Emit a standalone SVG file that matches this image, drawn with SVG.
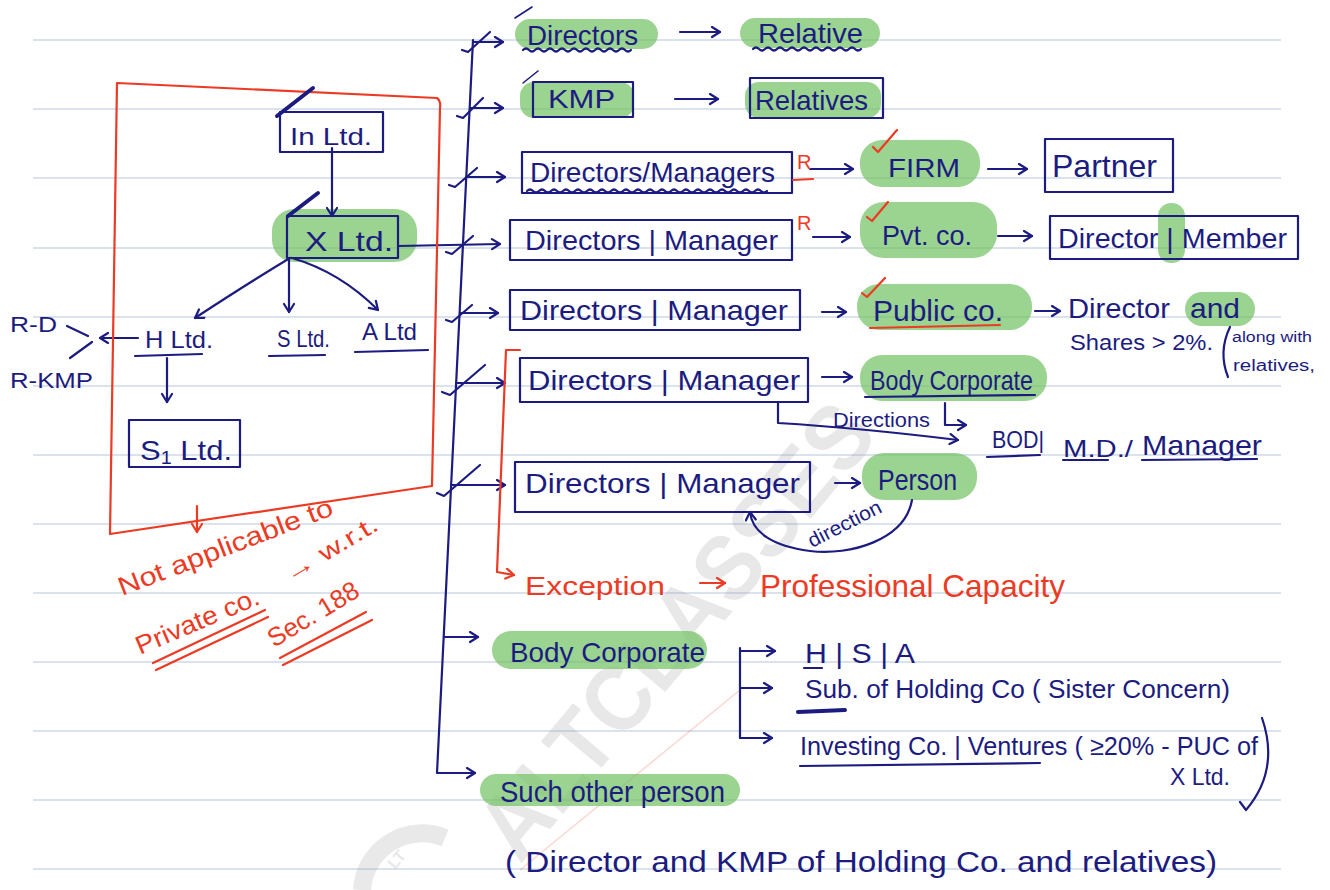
<svg xmlns="http://www.w3.org/2000/svg" width="1330" height="890" viewBox="0 0 1330 890">
<style>
.ink{fill:none;stroke:#1c1c80;stroke-width:2.2;stroke-linecap:round;stroke-linejoin:round}
.thin{fill:none;stroke:#1c1c80;stroke-width:1.6;stroke-linecap:round;stroke-linejoin:round}
.thick{fill:none;stroke:#1c1c80;stroke-width:4;stroke-linecap:round}
.red{fill:none;stroke:#ec3b25;stroke-width:2.2;stroke-linecap:round;stroke-linejoin:round}
.t{font-family:"Liberation Sans",Arial,sans-serif;fill:#1c1c80}
.tr{font-family:"Liberation Sans",Arial,sans-serif;fill:#ec3b25}
.hl{fill:#74c265;opacity:0.72}
.rule{stroke:#b6c5dc;stroke-width:1.2}
.wm{font-family:"Liberation Sans",Arial,sans-serif;font-weight:bold;fill:#9a9a9a;opacity:0.22}
</style>
<defs>
<marker id="ah" markerUnits="userSpaceOnUse" markerWidth="14" markerHeight="14" refX="10" refY="6" orient="auto"><path d="M2,1 L10,6 L2,11" fill="none" stroke="#1c1c80" stroke-width="2.2" stroke-linecap="round" stroke-linejoin="round"/></marker>
<marker id="ahr" markerUnits="userSpaceOnUse" markerWidth="14" markerHeight="14" refX="10" refY="6" orient="auto"><path d="M2,1 L10,6 L2,11" fill="none" stroke="#ec3b25" stroke-width="2.2" stroke-linecap="round" stroke-linejoin="round"/></marker>
</defs>
<rect width="1330" height="890" fill="#ffffff"/>
<g id="ruled">
<line class="rule" x1="33" y1="40" x2="1281" y2="40"/>
<line class="rule" x1="33" y1="109" x2="1281" y2="109"/>
<line class="rule" x1="33" y1="178" x2="1281" y2="178"/>
<line class="rule" x1="33" y1="248" x2="1281" y2="248"/>
<line class="rule" x1="33" y1="317" x2="1281" y2="317"/>
<line class="rule" x1="33" y1="386" x2="1281" y2="386"/>
<line class="rule" x1="33" y1="455" x2="1281" y2="455"/>
<line class="rule" x1="33" y1="524" x2="1281" y2="524"/>
<line class="rule" x1="33" y1="593" x2="1281" y2="593"/>
<line class="rule" x1="33" y1="662" x2="1281" y2="662"/>
<line class="rule" x1="33" y1="731" x2="1281" y2="731"/>
<line class="rule" x1="33" y1="800" x2="1281" y2="800"/>
<line class="rule" x1="33" y1="869" x2="1281" y2="869"/>
</g>
<g id="watermark">
<path d="M445,838 A60,60 0 0 0 362,890" fill="none" stroke="#9a9a9a" stroke-width="18" opacity="0.22"/>
<text class="wm" x="395" y="870" font-size="16" transform="rotate(-50 395 870)">LT</text>
<line x1="520" y1="870" x2="740" y2="690" stroke="#ec3b25" stroke-width="1.5" opacity="0.2"/>
<text class="wm" x="520" y="865" font-size="92" textLength="560" lengthAdjust="spacingAndGlyphs" transform="rotate(-50 520 865)">ALTCLASSES</text>
</g>
<g id="highlights">
<rect class="hl" x="515" y="19" width="143" height="30" rx="15"/>
<rect class="hl" x="740" y="18" width="140" height="30" rx="15"/>
<rect class="hl" x="520" y="82" width="114" height="36" rx="14"/>
<rect class="hl" x="745" y="82" width="136" height="36" rx="14"/>
<rect class="hl" x="860" y="140" width="120" height="47" rx="22"/>
<rect class="hl" x="860" y="202" width="137" height="56" rx="24"/>
<rect class="hl" x="1158" y="203" width="27" height="60" rx="13"/>
<rect class="hl" x="857" y="284" width="175" height="46" rx="22"/>
<rect class="hl" x="1185" y="292" width="70" height="34" rx="17"/>
<rect class="hl" x="860" y="355" width="187" height="46" rx="22"/>
<rect class="hl" x="862" y="453" width="115" height="47" rx="22"/>
<rect class="hl" x="492" y="631" width="215" height="38" rx="19"/>
<rect class="hl" x="480" y="774" width="260" height="32" rx="16"/>
<rect class="hl" x="272" y="209" width="145" height="53" rx="22"/>
</g>
<g id="connectors">
<path class="ink" d="M473,40 L437,773 L475,773" marker-end="url(#ah)"/>
<path class="ink" d="M473,42 L503,42" marker-end="url(#ah)"/>
<path class="ink" d="M462,50 L468,52 L490,32"/>
<path class="ink" d="M470,108 L503,108" marker-end="url(#ah)"/>
<path class="ink" d="M457,116 L463,118 L483,98"/>
<path class="ink" d="M466,177 L505,177" marker-end="url(#ah)"/>
<path class="ink" d="M449,185 L455,187 L477,168"/>
<path class="ink" d="M398,246 L500,244" marker-end="url(#ah)"/>
<path class="ink" d="M446,252 L452,254 L473,236"/>
<path class="ink" d="M460,313 L498,313" marker-end="url(#ah)"/>
<path class="ink" d="M446,320 L452,322 L472,305"/>
<path class="ink" d="M456,383 L505,383" marker-end="url(#ah)"/>
<path class="ink" d="M442,392 L450,395 L485,365"/>
<path class="ink" d="M451,485 L505,485" marker-end="url(#ah)"/>
<path class="ink" d="M437,493 L444,496 L480,465"/>
<path class="ink" d="M444,637 L478,637" marker-end="url(#ah)"/>
<path class="ink" d="M680,32 L720,32" marker-end="url(#ah)"/>
<path class="ink" d="M675,99 L718,99" marker-end="url(#ah)"/>
<path class="ink" d="M810,169 L853,169" marker-end="url(#ah)"/>
<path class="ink" d="M988,169 L1027,169" marker-end="url(#ah)"/>
<path class="ink" d="M813,237 L850,237" marker-end="url(#ah)"/>
<path class="ink" d="M998,236 L1032,236" marker-end="url(#ah)"/>
<path class="ink" d="M822,312 L846,312" marker-end="url(#ah)"/>
<path class="ink" d="M1035,311 L1060,311" marker-end="url(#ah)"/>
<path class="ink" d="M822,377 L852,377" marker-end="url(#ah)"/>
<path class="ink" d="M778,403 L778,423 Q860,428 958,440" marker-end="url(#ah)"/>
<path class="ink" d="M945,403 L945,425 L966,425" marker-end="url(#ah)"/>
<path class="ink" d="M835,483 L860,483" marker-end="url(#ah)"/>
<path class="ink" d="M912,500 C905,540 850,556 810,551 C772,546 752,532 750,512" marker-end="url(#ah)"/>
<path class="ink" d="M740,648 L740,738"/>
<path class="ink" d="M740,651 L775,651" marker-end="url(#ah)"/>
<path class="ink" d="M740,688 L772,688" marker-end="url(#ah)"/>
<path class="ink" d="M740,738 L772,738" marker-end="url(#ah)"/>
<path class="ink" d="M332,148 L332,216" marker-end="url(#ah)"/>
<path class="ink" d="M290,258 Q250,282 195,318" marker-end="url(#ah)"/>
<path class="ink" d="M289,258 L289,312" marker-end="url(#ah)"/>
<path class="ink" d="M292,258 Q340,272 378,310" marker-end="url(#ah)"/>
<path class="ink" d="M138,338 L100,338" marker-end="url(#ah)"/>
<path class="ink" d="M67,326 L88,336"/>
<path class="ink" d="M70,358 L92,342"/>
<path class="ink" d="M167,358 L167,402" marker-end="url(#ah)"/>
<path class="red" d="M520,350 L506,350 L497,572 L514,575" marker-end="url(#ahr)"/>
<path class="red" d="M700,583 L725,583" marker-end="url(#ahr)"/>
<path class="red" d="M197,506 L197,532" marker-end="url(#ahr)"/>
</g>
<g id="left-box">
<path class="red" stroke-width="2.5" d="M117,83 L437,98 Q441,101 440,108 L432,486 L110,534 Z"/>
</g>
<g id="in-ltd">
<rect class="ink" x="280" y="112" width="103" height="40"/>
<path class="thick" d="M277,116 L313,88"/>
<text class="t" x="290" y="145" font-size="24" textLength="82" lengthAdjust="spacingAndGlyphs">In Ltd.</text>
</g>
<g id="x-ltd">
<rect class="ink" x="287" y="216" width="111" height="42"/>
<path class="thick" d="M288,216 L318,193"/>
<text class="t" x="305" y="251" font-size="28" textLength="88" lengthAdjust="spacingAndGlyphs">X Ltd.</text>
</g>
<g id="h-ltd">
<text class="t" x="145" y="348" font-size="24" textLength="68" lengthAdjust="spacingAndGlyphs">H Ltd.</text>
<path class="ink" d="M135,356 L202,354"/>
</g>
<g id="s-ltd">
<text class="t" x="277" y="347" font-size="24" textLength="53" lengthAdjust="spacingAndGlyphs">S Ltd.</text>
<path class="ink" d="M269,356 L325,355"/>
</g>
<g id="a-ltd">
<text class="t" x="362" y="340" font-size="24" textLength="55" lengthAdjust="spacingAndGlyphs">A Ltd</text>
<path class="ink" d="M355,352 L428,350"/>
</g>
<g id="r-labels">
<text class="t" x="10" y="332" font-size="22" textLength="47" lengthAdjust="spacingAndGlyphs">R-D</text>
<text class="t" x="10" y="388" font-size="22" textLength="83" lengthAdjust="spacingAndGlyphs">R-KMP</text>
</g>
<g id="s1-ltd">
<rect class="ink" x="129" y="420" width="111" height="47"/>
<text class="t" x="140" y="460" font-size="28" textLength="92" lengthAdjust="spacingAndGlyphs">S<tspan font-size="18" dy="4">1</tspan><tspan dy="-4"> Ltd.</tspan></text>
</g>
<g id="not-applicable">
<text class="tr" x="122" y="596" font-size="26" textLength="228" lengthAdjust="spacingAndGlyphs" transform="rotate(-21 122 596)">Not applicable to</text>
<text class="tr" x="140" y="655" font-size="26" textLength="132" lengthAdjust="spacingAndGlyphs" transform="rotate(-23 140 655)">Private co.</text>
<text class="tr" x="290" y="583" font-size="24" textLength="105" lengthAdjust="spacingAndGlyphs" transform="rotate(-31 290 583)">→ w.r.t.</text>
<text class="tr" x="274" y="648" font-size="26" textLength="102" lengthAdjust="spacingAndGlyphs" transform="rotate(-31 274 648)">Sec. 188</text>
<path class="red" d="M153,663 L265,610 M156,670 L268,617"/>
<path class="red" d="M280,658 L366,612 M283,665 L372,620"/>
</g>
<g id="directors">
<path class="thin" d="M515,18 L532,7"/>
<text class="t" x="527" y="45" font-size="28" textLength="111" lengthAdjust="spacingAndGlyphs">Directors</text>
<path class="ink" stroke-width="1.8" d="M523,50 q3,-3 6,0 t6,0 t6,0 t6,0 t6,0 t6,0 t6,0 t6,0 t6,0 t6,0 t6,0 t6,0 t6,0 t6,0 t6,0 t6,0 t6,0 t6,0"/>
</g>
<g id="relative">
<text class="t" x="758" y="43" font-size="28" textLength="105" lengthAdjust="spacingAndGlyphs">Relative</text>
<path class="ink" stroke-width="1.8" d="M753,49 q3,-3 6,0 t6,0 t6,0 t6,0 t6,0 t6,0 t6,0 t6,0 t6,0 t6,0 t6,0 t6,0 t6,0 t6,0 t6,0 t6,0 t6,0 t6,0"/>
</g>
<g id="kmp">
<rect class="ink" x="533" y="82" width="100" height="35"/>
<path class="thin" d="M523,83 L538,71"/>
<text class="t" x="548" y="108" font-size="26" textLength="67" lengthAdjust="spacingAndGlyphs">KMP</text>
</g>
<g id="relatives">
<rect class="ink" x="750" y="78" width="133" height="40"/>
<text class="t" x="755" y="110" font-size="28" textLength="113" lengthAdjust="spacingAndGlyphs">Relatives</text>
</g>
<g id="dm-firm">
<rect class="ink" x="522" y="152" width="270" height="41"/>
<text class="t" x="530" y="182" font-size="28" textLength="245" lengthAdjust="spacingAndGlyphs">Directors/Managers</text>
<path class="ink" stroke-width="1.8" d="M527,191 q3,-3 6,0 t6,0 t6,0 t6,0 t6,0 t6,0 t6,0 t6,0 t6,0 t6,0 t6,0 t6,0 t6,0 t6,0 t6,0 t6,0 t6,0 t6,0 t6,0 t6,0 t6,0 t6,0 t6,0 t6,0 t6,0 t6,0 t6,0 t6,0 t6,0 t6,0 t6,0 t6,0 t6,0 t6,0 t6,0 t6,0 t6,0 t6,0 t6,0 t6,0"/>
<text class="tr" x="797" y="169" font-size="20">R</text>
<path class="red" d="M793,180 L813,179"/>
</g>
<g id="firm">
<path class="red" d="M873,147 L878,152 L897,130"/>
<text class="t" x="888" y="177" font-size="26" textLength="72" lengthAdjust="spacingAndGlyphs">FIRM</text>
</g>
<g id="partner">
<rect class="ink" x="1045" y="139" width="128" height="53"/>
<text class="t" x="1052" y="177" font-size="32" textLength="105" lengthAdjust="spacingAndGlyphs">Partner</text>
</g>
<g id="dm-pvt">
<rect class="ink" x="510" y="220" width="282" height="40"/>
<text class="t" x="525" y="250" font-size="28" textLength="253" lengthAdjust="spacingAndGlyphs">Directors | Manager</text>
<text class="tr" x="797" y="230" font-size="20">R</text>
</g>
<g id="pvt-co">
<path class="red" d="M867,217 L872,221 L888,202"/>
<text class="t" x="882" y="245" font-size="28" textLength="90" lengthAdjust="spacingAndGlyphs">Pvt. co.</text>
</g>
<g id="director-member">
<rect class="ink" x="1050" y="216" width="248" height="43"/>
<text class="t" x="1058" y="248" font-size="28" textLength="229" lengthAdjust="spacingAndGlyphs">Director | Member</text>
</g>
<g id="dm-public">
<rect class="ink" x="510" y="290" width="290" height="40"/>
<text class="t" x="520" y="320" font-size="28" textLength="268" lengthAdjust="spacingAndGlyphs">Directors | Manager</text>
</g>
<g id="public-co">
<path class="red" d="M862,293 L867,297 L885,278"/>
<text class="t" x="873" y="321" font-size="30" textLength="130" lengthAdjust="spacingAndGlyphs">Public co.</text>
<path class="red" d="M870,328 L1000,325"/>
</g>
<g id="director-and">
<text class="t" x="1068" y="318" font-size="28" textLength="102" lengthAdjust="spacingAndGlyphs">Director</text>
<text class="t" x="1190" y="318" font-size="28" textLength="50" lengthAdjust="spacingAndGlyphs">and</text>
<text class="t" x="1070" y="350" font-size="22" textLength="143" lengthAdjust="spacingAndGlyphs">Shares &gt; 2%.</text>
<path class="ink" stroke-width="1.8" d="M1230,327 Q1218,352 1228,377"/>
<text class="t" x="1232" y="342" font-size="14" textLength="80" lengthAdjust="spacingAndGlyphs">along with</text>
<text class="t" x="1233" y="371" font-size="16" textLength="82" lengthAdjust="spacingAndGlyphs">relatives,</text>
</g>
<g id="dm-body">
<rect class="ink" x="520" y="358" width="288" height="44"/>
<text class="t" x="528" y="390" font-size="28" textLength="272" lengthAdjust="spacingAndGlyphs">Directors | Manager</text>
</g>
<g id="body-corporate-1">
<text class="t" x="870" y="390" font-size="28" textLength="163" lengthAdjust="spacingAndGlyphs">Body Corporate</text>
<path class="ink" d="M865,397 L1035,395"/>
</g>
<g id="directions-label">
<text class="t" x="833" y="427" font-size="20" textLength="97" lengthAdjust="spacingAndGlyphs">Directions</text>
</g>
<g id="bod">
<text class="t" x="992" y="448" font-size="24" textLength="52" lengthAdjust="spacingAndGlyphs">BOD|</text>
<path class="ink" d="M987,457 L1040,455"/>
<text class="t" x="1063" y="457" font-size="24" textLength="70" lengthAdjust="spacingAndGlyphs">M.D./</text>
<path class="ink" d="M1063,460 L1108,460"/>
<text class="t" x="1142" y="455" font-size="28" textLength="120" lengthAdjust="spacingAndGlyphs">Manager</text>
<path class="ink" d="M1142,460 L1257,459"/>
</g>
<g id="dm-person">
<rect class="ink" x="515" y="462" width="295" height="50"/>
<text class="t" x="525" y="493" font-size="28" textLength="275" lengthAdjust="spacingAndGlyphs">Directors | Manager</text>
</g>
<g id="person">
<text class="t" x="878" y="490" font-size="30" textLength="79" lengthAdjust="spacingAndGlyphs">Person</text>
</g>
<g id="direction-label">
<text class="t" x="812" y="548" font-size="20" textLength="80" lengthAdjust="spacingAndGlyphs" transform="rotate(-27 812 548)">direction</text>
</g>
<g id="exception">
<text class="tr" x="525" y="595" font-size="26" textLength="140" lengthAdjust="spacingAndGlyphs">Exception</text>
<text class="tr" x="760" y="597" font-size="32" textLength="305" lengthAdjust="spacingAndGlyphs">Professional Capacity</text>
</g>
<g id="body-corporate-2">
<text class="t" x="510" y="662" font-size="28" textLength="195" lengthAdjust="spacingAndGlyphs">Body Corporate</text>
</g>
<g id="hsa">
<text class="t" x="805" y="663" font-size="28" textLength="110" lengthAdjust="spacingAndGlyphs">H | S | A</text>
<path class="ink" d="M804,668 L822,668"/>
</g>
<g id="sub-holding">
<text class="t" x="805" y="698" font-size="26" textLength="425" lengthAdjust="spacingAndGlyphs">Sub. of Holding Co ( Sister Concern)</text>
<path class="thick" d="M798,712 L845,710"/>
</g>
<g id="investing">
<text class="t" x="800" y="755" font-size="26" textLength="458" lengthAdjust="spacingAndGlyphs">Investing Co. | Ventures ( ≥20% - PUC of</text>
<path class="ink" d="M800,766 L1040,763"/>
<text class="t" x="1170" y="785" font-size="24" textLength="60" lengthAdjust="spacingAndGlyphs">X Ltd.</text>
<path class="ink" d="M1262,718 Q1280,770 1246,810 M1246,810 L1240,802"/>
</g>
<g id="such-other">
<text class="t" x="500" y="802" font-size="30" textLength="225" lengthAdjust="spacingAndGlyphs">Such other person</text>
</g>
<g id="bottom-note">
<text class="t" x="505" y="872" font-size="30" textLength="712" lengthAdjust="spacingAndGlyphs">( Director and KMP of Holding Co. and relatives)</text>
</g>
</svg>
